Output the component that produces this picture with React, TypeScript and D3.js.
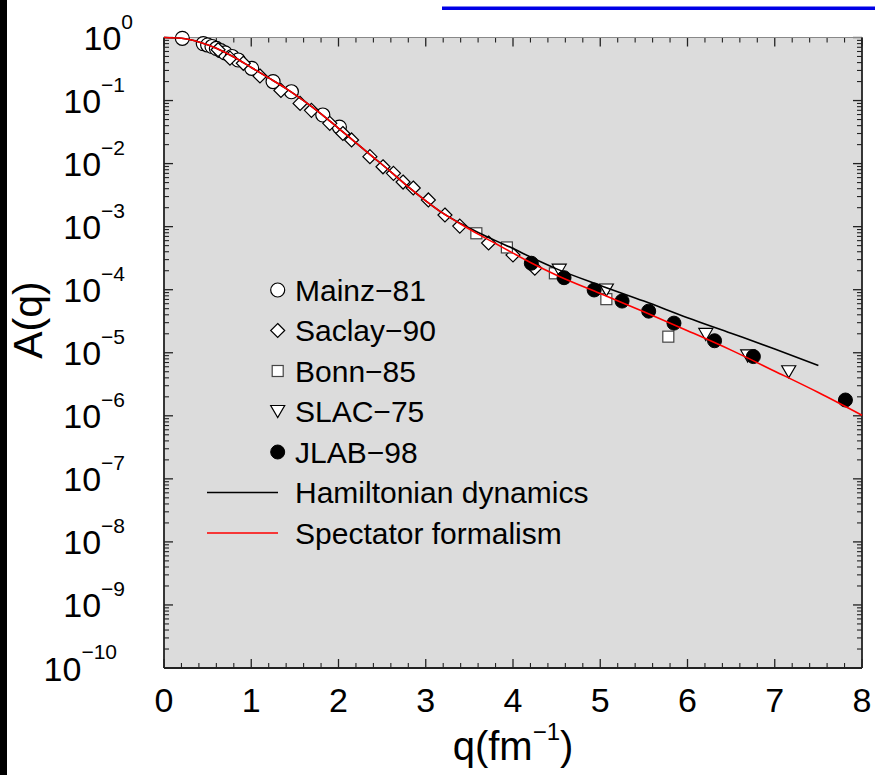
import React from "react";
import * as d3 from "d3";

const mainzQ = [0.21, 0.45, 0.5, 0.55, 0.6, 0.65, 0.7, 0.78, 0.85, 1.005, 1.25, 1.46, 1.82, 2.01];
const mainzA = [0.97, 0.8, 0.76, 0.72, 0.67, 0.62, 0.57, 0.5, 0.44, 0.325, 0.2, 0.138, 0.059, 0.038];

const saclayQ = [0.62, 0.756, 0.909, 1.1, 1.34, 1.56, 1.69, 1.9, 2.05, 2.15, 2.36, 2.51, 2.63, 2.74, 2.857, 3.03, 3.22, 3.39, 3.72, 4.0, 4.25];
const saclayA = [0.64, 0.47, 0.39, 0.245, 0.145, 0.09, 0.07, 0.0435, 0.03, 0.0237, 0.0129, 0.0089, 0.007, 0.0051, 0.0041, 0.00265, 0.00153, 0.00102, 0.00055, 0.000355, 0.000219];

const bonnQ = [3.58, 3.93, 4.48, 5.07, 5.78];
const bonnA = [7.85e-4, 4.68e-4, 1.82e-4, 7.08e-5, 1.8e-5];

const slacQ = [4.53, 5.07, 6.21, 6.69, 7.16];
const slacA = [2.04e-4, 9.9e-5, 1.95e-5, 8.9e-6, 5.0e-6];

const jlabQ = [4.21, 4.585, 4.93, 5.25, 5.555, 5.845, 6.31, 6.755, 7.81];
const jlabA = [2.63e-4, 1.55e-4, 9.9e-5, 6.6e-5, 4.57e-5, 2.95e-5, 1.55e-5, 8.7e-6, 1.78e-6];

const spectQ = [0, 0.2, 0.4, 0.6, 0.8, 1.0, 1.2, 1.4, 1.6, 1.8, 2.0, 2.2, 2.4, 2.6, 2.8, 3.0, 3.2, 3.4, 3.6, 3.8, 4.0, 4.2, 4.5, 5.0, 5.5, 6.0, 6.5, 7.0, 7.5, 8.0];
const spectA = [1, 0.972, 0.851, 0.676, 0.49, 0.335, 0.229, 0.155, 0.1, 0.0617, 0.0363, 0.0214, 0.0126, 0.0074, 0.00427, 0.00257, 0.00162, 0.0011, 7.6e-4, 5.4e-4, 3.8e-4, 2.7e-4, 1.7e-4, 8.7e-5, 4.47e-5, 2.24e-5, 1.1e-5, 5.1e-6, 2.34e-6, 1.02e-6];

const hamQ = [0, 0.2, 0.4, 0.6, 0.8, 1.0, 1.2, 1.4, 1.6, 1.8, 2.0, 2.2, 2.4, 2.6, 2.8, 3.0, 3.2, 3.4, 3.6, 3.8, 4.0, 4.2, 4.5, 5.0, 5.5, 6.0, 6.5, 7.0, 7.5];
const hamA = [1, 0.972, 0.851, 0.676, 0.49, 0.335, 0.229, 0.155, 0.1, 0.0617, 0.0363, 0.0214, 0.0126, 0.0074, 0.00427, 0.00257, 0.00162, 0.00112, 8.1e-4, 6.0e-4, 4.5e-4, 3.3e-4, 2.14e-4, 1.17e-4, 6.6e-5, 3.6e-5, 2.04e-5, 1.15e-5, 6.3e-6];

const xTicks = [0, 1, 2, 3, 4, 5, 6, 7, 8];
const yExponents = [0, -1, -2, -3, -4, -5, -6, -7, -8, -9, -10];

const legendNames = ["Mainz−81", "Saclay−90", "Bonn−85", "SLAC−75", "JLAB−98", "Hamiltonian dynamics", "Spectator formalism"];

const FONT = "'Liberation Sans', Arial, Helvetica, sans-serif";

const L = 164, R = 862, T = 37.5, B = 668;

function Marker({ kind, cx, cy }: { kind: string; cx: number; cy: number }) {
  if (kind === "circle")
    return <circle cx={cx} cy={cy} r={7} fill="#fff" stroke="#000" strokeWidth={1.2} />;
  if (kind === "diamond") {
    const s = 7;
    return <path d={`M${cx},${cy - s}L${cx + s},${cy}L${cx},${cy + s}L${cx - s},${cy}Z`} fill="#fff" stroke="#000" strokeWidth={1.2} />;
  }
  if (kind === "square")
    return <rect x={cx - 5.5} y={cy - 5.5} width={11} height={11} fill="#fff" stroke="#444" strokeWidth={1.2} />;
  if (kind === "triangle")
    return <path d={`M${cx - 7},${cy - 6}L${cx + 7},${cy - 6}L${cx},${cy + 6}Z`} fill="#fff" stroke="#000" strokeWidth={1.2} />;
  return <circle cx={cx} cy={cy} r={7} fill="#000" stroke="#000" strokeWidth={1} />;
}

export default function App() {
  const x = d3.scaleLinear().domain([0, 8]).range([L, R]);
  const y = d3.scaleLog().domain([1e-10, 1]).range([B, T]);

  const line = d3
    .line<[number, number]>()
    .x((d) => x(d[0]))
    .y((d) => y(d[1]))
    .curve(d3.curveMonotoneX);

  const series = [
    { kind: "circle", q: mainzQ, a: mainzA },
    { kind: "diamond", q: saclayQ, a: saclayA },
    { kind: "square", q: bonnQ, a: bonnA },
    { kind: "triangle", q: slacQ, a: slacA },
    { kind: "filled", q: jlabQ, a: jlabA },
  ];

  const xMinor = d3.range(0, 8.0001, 0.2).filter((v) => Math.abs(v - Math.round(v)) > 1e-6);
  const yMinor: number[] = [];
  for (let e = -10; e < 0; e++) for (let k = 2; k <= 9; k++) yMinor.push(k * Math.pow(10, e));

  const spect = spectQ.map((q, i) => [q, spectA[i]] as [number, number]);
  const ham = hamQ.map((q, i) => [q, hamA[i]] as [number, number]);

  const legY = [300.5, 341, 381.5, 422, 462.5, 503, 543.5];

  return (
    <svg width={875} height={775} style={{ position: "absolute", left: 0, top: 0, background: "#fff" }} fontFamily={FONT}>
      <rect x={0} y={0} width={7} height={775} fill="#000" />
      <rect x={442} y={6.5} width={433} height={3.5} fill="#0000e6" />
      <rect x={L} y={T} width={R - L} height={B - T} fill="#dcdcdc" />

      {/* ticks */}
      {xTicks.map((t) => (
        <g key={"xt" + t} stroke="#222" strokeWidth={1.3}>
          <line x1={x(t)} x2={x(t)} y1={B} y2={B - 9} />
          <line x1={x(t)} x2={x(t)} y1={T} y2={T + 9} />
        </g>
      ))}
      {xMinor.map((t, i) => (
        <g key={"xm" + i} stroke="#222" strokeWidth={1.1}>
          <line x1={x(t)} x2={x(t)} y1={B} y2={B - 5} />
          <line x1={x(t)} x2={x(t)} y1={T} y2={T + 5} />
        </g>
      ))}
      {yExponents.map((e) => (
        <g key={"yt" + e} stroke="#222" strokeWidth={1.3}>
          <line x1={L} x2={L + 9} y1={y(Math.pow(10, e))} y2={y(Math.pow(10, e))} />
          <line x1={R} x2={R - 9} y1={y(Math.pow(10, e))} y2={y(Math.pow(10, e))} />
        </g>
      ))}
      {yMinor.map((v, i) => (
        <g key={"ym" + i} stroke="#222" strokeWidth={1.1}>
          <line x1={L} x2={L + 5} y1={y(v)} y2={y(v)} />
          <line x1={R} x2={R - 5} y1={y(v)} y2={y(v)} />
        </g>
      ))}

      {/* frame */}
      <line x1={L} x2={R} y1={T} y2={T} stroke="#888" strokeWidth={1.2} />
      <line x1={L} x2={L} y1={T} y2={B} stroke="#222" strokeWidth={1.8} />
      <line x1={L} x2={R} y1={B} y2={B} stroke="#222" strokeWidth={1.8} />
      <line x1={R} x2={R} y1={T} y2={B} stroke="#222" strokeWidth={1.8} />

      {/* markers */}
      {series.map((s) =>
        s.q.map((q, i) => <Marker key={s.kind + i} kind={s.kind} cx={x(q)} cy={y(s.a[i])} />)
      )}

      {/* curves */}
      <path d={line(ham) || ""} fill="none" stroke="#000" strokeWidth={1.6} />
      <path d={line(spect) || ""} fill="none" stroke="#ff0000" strokeWidth={1.6} />

      {/* tick labels */}
      {xTicks.map((t) => (
        <text key={"xl" + t} x={x(t)} y={712} fontSize={34} textAnchor="middle" fill="#000">
          {t}
        </text>
      ))}
      {yExponents.map((e) => {
        const sup = e === 0 ? "0" : "−" + Math.abs(e);
        const xe = 133 - 8 * (sup.length - 1);
        const yy = y(Math.pow(10, e));
        return (
          <text key={"yl" + e} x={xe} y={yy + 12.5} fontSize={34} textAnchor="end" fill="#000">
            10
            <tspan fontSize={21} dy={-21.5}>{sup}</tspan>
          </text>
        );
      })}

      {/* axis titles */}
      <text transform="translate(42,320) rotate(-90)" fontSize={41} textAnchor="middle" fill="#000">
        A(q)
      </text>
      <text x={513} y={760} fontSize={40} textAnchor="middle" fill="#000">
        q(fm
        <tspan fontSize={24} dy={-20}>−1</tspan>
        <tspan dy={20}>)</tspan>
      </text>

      {/* legend */}
      {["circle", "diamond", "square", "triangle", "filled"].map((k, i) => (
        <Marker key={"lg" + k} kind={k} cx={277.7} cy={legY[i] - 10.5} />
      ))}
      <line x1={207} x2={278} y1={legY[5] - 10.5} y2={legY[5] - 10.5} stroke="#000" strokeWidth={1.3} />
      <line x1={207} x2={278} y1={legY[6] - 10.5} y2={legY[6] - 10.5} stroke="#ff0000" strokeWidth={1.3} />
      {legendNames.map((n, i) => (
        <text key={"ln" + i} x={295} y={legY[i]} fontSize={30} fill="#000">
          {n}
        </text>
      ))}
    </svg>
  );
}
